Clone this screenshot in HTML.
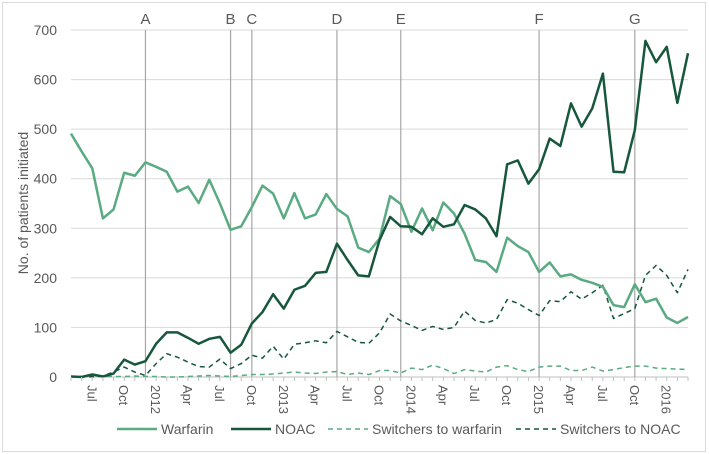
<!DOCTYPE html>
<html><head><meta charset="utf-8"><style>
body{margin:0;background:#fff;}
svg{display:block;font-family:"Liberation Sans",sans-serif;}
</style></head><body>
<svg id="chart" width="709" height="454">
<rect x="2.5" y="2.5" width="703" height="449" fill="#fff" stroke="#d9d9d9"/>
<g id="grid"></g><g id="events"></g><g id="series"></g><g id="axes"></g>
<g id="legend"></g>
</svg>
<script>
const warfarin=[491,455,421,320,338,412,406,433,424,414,374,384,351,398,350,297,304,343,386,370,320,371,320,328,369,339,324,261,252,279,365,349,293,340,296,352,330,289,236,232,212,281,264,252,212,231,203,207,196,190,182,145,141,187,151,158,120,109,121];
const noac=[1,0,5,1,7,35,25,32,67,90,90,79,67,77,81,49,65,108,131,167,138,176,184,210,212,269,236,205,203,276,323,304,303,288,320,303,308,347,338,320,284,429,437,390,419,481,466,552,505,542,612,414,413,498,678,635,666,553,653];
const swWarfarin=[0,0,0,1,1,1,2,1,1,0,0,1,2,3,2,1,3,5,5,6,8,10,8,7,10,11,5,8,5,13,13,8,18,15,24,17,7,15,12,10,20,23,15,11,20,22,22,13,13,20,12,15,19,22,22,18,17,16,15];
const swNoac=[1,1,1,2,10,20,10,3,27,47,40,30,21,20,36,17,27,44,38,62,36,66,69,73,69,92,81,70,68,89,127,113,104,94,102,96,100,133,114,109,116,156,149,136,124,154,152,172,157,170,185,118,128,138,205,225,205,170,217];
const yTicks=[0,100,200,300,400,500,600,700];
const xLabels=["Jul","Oct","2012","Apr","Jul","Oct","2013","Apr","Jul","Oct","2014","Apr","Jul","Oct","2015","Apr","Jul","Oct","2016"];
const xLabelIdx=[2,5,8,11,14,17,20,23,26,29,32,35,38,41,44,47,50,53,56];
const eventLabels=["A","B","C","D","E","F","G"];
const eventIdx=[7,15,17,25,31,44,53];
const NS="http://www.w3.org/2000/svg";
const X0=71,X1=688,Y0=377,Y1=30,N=warfarin.length;
const xs=i=>X0+(X1-X0)*i/(N-1);
const ys=v=>Y0-(Y0-Y1)*v/700;
function mk(tag,attrs,parent){const e=document.createElementNS(NS,tag);for(const k in attrs)e.setAttribute(k,attrs[k]);parent.appendChild(e);return e;}
const grid=document.getElementById('grid'),axes=document.getElementById('axes'),ev=document.getElementById('events'),ser=document.getElementById('series'),leg=document.getElementById('legend');
yTicks.forEach(t=>{
 const l=mk('line',{x1:X0,x2:X1,y1:ys(t),y2:ys(t),stroke:t===0?'#bfbfbf':'#d9d9d9','stroke-width':1},grid);
 
 
 const tx=mk('text',{x:57,y:ys(t)+5,'text-anchor':'end','font-size':14,fill:'#595959'},axes);
 tx.textContent=t;
 
 
});
for(let i=0;i<N;i++){
 const tk=mk('line',{x1:xs(i),x2:xs(i),y1:Y0,y2:Y0+4,stroke:'#bfbfbf'},axes);
 
 
}
xLabels.forEach((s,k)=>{
 const x=xs(xLabelIdx[k]);
 const t=mk('text',{x:0,y:0,'font-size':13,fill:'#595959',transform:`translate(${x-5},385) rotate(90)`},axes);
 t.textContent=s;
 
 
});
eventLabels.forEach((s,k)=>{
 const x=xs(eventIdx[k]);
 const l=mk('line',{x1:x,x2:x,y1:Y1,y2:Y0,stroke:'#a6a6a6','stroke-width':1.2},ev);
 
 
 const t=mk('text',{x:x,y:24,'text-anchor':'middle','font-size':15,fill:'#595959'},ev);
 t.textContent=s;
 
 
});
const at=mk('text',{x:0,y:0,'font-size':14,fill:'#595959','text-anchor':'middle',transform:'translate(28,203) rotate(-90)'},axes);
at.textContent='No. of patients initiated';


function line(data,color,dash,width,name){
 const p=mk('polyline',{points:data.map((v,i)=>xs(i)+','+ys(v)).join(' '),fill:'none',stroke:color,'stroke-width':width,'stroke-dasharray':dash,'stroke-linejoin':'round'},ser);
 
 
}
line(swWarfarin,'#5aaa82','5,4',1.5,'series-switchers-to-warfarin');
line(swNoac,'#17573c','5,4',1.5,'series-switchers-to-noac');
line(warfarin,'#5aaa82','none',2.5,'series-warfarin');
line(noac,'#17573c','none',2.5,'series-noac');
const legItems=[["Warfarin",'#5aaa82','none',117,161],["NOAC",'#17573c','none',231,275],["Switchers to warfarin",'#5aaa82','5,4',328,372],["Switchers to NOAC",'#17573c','5,4',516,560]];
legItems.forEach(it=>{
 const g=mk('g',{},leg);
 
 
 mk('line',{x1:it[3],x2:it[3]+40,y1:429,y2:429,stroke:it[1],'stroke-width':it[2]==='none'?2.5:1.5,'stroke-dasharray':it[2]},g);
 const t=mk('text',{x:it[4],y:434,'font-size':14,fill:'#595959'},g);
 t.textContent=it[0];
});
</script>
</body></html>
